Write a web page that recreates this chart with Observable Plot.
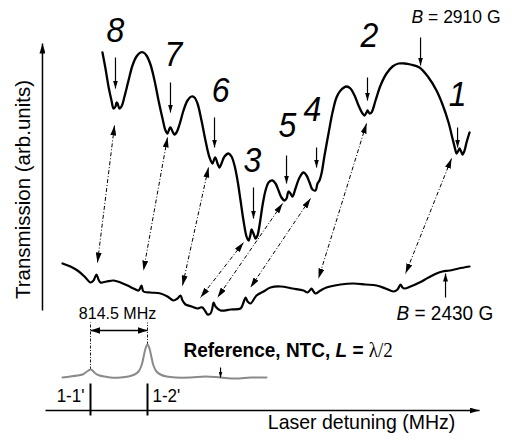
<!DOCTYPE html>
<html><head><meta charset="utf-8">
<script src="https://cdn.jsdelivr.net/npm/d3@7"></script>
<script src="https://cdn.jsdelivr.net/npm/@observablehq/plot@0.6"></script>
<style>body{margin:0;background:#fff}</style>
</head><body><div id="chart"></div>
<script>
// x: laser detuning (MHz, 0 at 1-1'), y: transmission (arb. units)
const top2910 = [[171,3.58],[214,3.42],[257,3.24],[300,3.10],[329,3.02],[357,3.04],[372,3.08],[386,3.07],[414,3.02],[443,3.04],[486,3.14],[543,3.30],[600,3.45],[657,3.54],[714,3.58],[757,3.58],[800,3.55],[857,3.46],[915,3.30],[972,3.10],[1029,2.92],[1072,2.80],[1100,2.77],[1129,2.82],[1143,2.83],[1172,2.79],[1200,2.76],[1229,2.78],[1272,2.86],[1329,3.00],[1386,3.10],[1443,3.14],[1486,3.13],[1529,3.07],[1586,2.90],[1643,2.70],[1701,2.53],[1743,2.47],[1772,2.52],[1786,2.53],[1815,2.47],[1843,2.43],[1872,2.47],[1915,2.54],[1972,2.57],[2015,2.54],[2058,2.45],[2101,2.30],[2144,2.10],[2186,1.90],[2229,1.74],[2258,1.70],[2286,1.76],[2301,1.81],[2329,1.77],[2358,1.72],[2386,1.75],[2415,1.85],[2458,2.05],[2501,2.20],[2544,2.28],[2601,2.30],[2644,2.27],[2687,2.20],[2729,2.13],[2772,2.10],[2801,2.12],[2829,2.19],[2858,2.17],[2887,2.14],[2929,2.22],[2987,2.33],[3044,2.38],[3087,2.35],[3130,2.28],[3172,2.21],[3215,2.20],[3244,2.27],[3272,2.30],[3301,2.37],[3344,2.55],[3401,2.77],[3458,2.98],[3515,3.13],[3573,3.20],[3658,3.24],[3715,3.22],[3773,3.15],[3830,3.05],[3887,2.97],[3915,2.95],[3944,2.98],[3958,3.00],[3987,2.97],[4015,2.98],[4073,3.10],[4144,3.25],[4230,3.37],[4316,3.44],[4401,3.47],[4487,3.47],[4573,3.46],[4701,3.43],[4830,3.33],[4944,3.20],[5030,3.06],[5116,2.88],[5173,2.72],[5216,2.60],[5230,2.57],[5259,2.60],[5273,2.62],[5302,2.58],[5316,2.56],[5345,2.60],[5373,2.68],[5416,2.78]];

const bottom2430 = [[-400,1.47],[-286,1.44],[-186,1.40],[-86,1.34],[0,1.28],[43,1.30],[86,1.36],[114,1.31],[143,1.28],[229,1.29],[329,1.30],[429,1.28],[529,1.25],[614,1.22],[686,1.20],[714,1.23],[729,1.25],[757,1.19],[857,1.18],[1000,1.17],[1100,1.14],[1186,1.10],[1243,1.12],[1286,1.15],[1315,1.10],[1358,1.06],[1443,1.04],[1529,1.02],[1572,1.03],[1600,1.03],[1643,0.99],[1672,0.96],[1715,0.97],[1743,1.03],[1758,1.08],[1786,1.04],[1858,1.00],[2001,1.01],[2144,1.02],[2186,1.08],[2215,1.13],[2244,1.09],[2286,1.07],[2372,1.15],[2472,1.19],[2572,1.23],[2715,1.24],[2887,1.22],[3044,1.20],[3101,1.18],[3144,1.21],[3158,1.22],[3187,1.19],[3215,1.17],[3287,1.20],[3372,1.23],[3573,1.26],[3758,1.27],[3930,1.26],[4087,1.25],[4216,1.22],[4330,1.19],[4387,1.21],[4430,1.26],[4458,1.23],[4487,1.22],[4573,1.24],[4701,1.28],[4830,1.33],[4944,1.37],[5030,1.39],[5130,1.40],[5259,1.42],[5416,1.44]];

const reference = [[-400,0.33],[-286,0.34],[-186,0.35],[-114,0.36],[-71,0.38],[-29,0.40],[0,0.41],[29,0.40],[71,0.37],[129,0.35],[200,0.34],[286,0.33],[429,0.33],[543,0.34],[629,0.36],[686,0.39],[729,0.45],[757,0.53],[786,0.62],[815,0.66],[843,0.62],[872,0.53],[900,0.45],[943,0.39],[1000,0.36],[1086,0.34],[1215,0.33],[1429,0.33],[1643,0.34],[1858,0.33],[2072,0.32],[2286,0.33],[2515,0.33]];

// resonance labels and markers
const peakNames  = ["8","7","6","3","5","4","2","1"];
const peakLabelX = [357,1186,1858,2315,2815,3172,3987,5245];
const peakLabelY = [3.80,3.56,3.20,2.50,2.85,3.01,3.75,3.16];
const dipX       = [357,1143,1772,2329,2801,3230,3958,5245];
const dipArrowTop    = [3.53,3.28,2.93,2.23,2.55,2.63,3.33,2.83];
const dipArrowBottom = [3.22,2.98,2.63,1.92,2.27,2.43,3.10,2.63];
// dash-dot connectors between B=2910 G dips and B=2430 G peaks
const linkTopX    = [343,1100,1686,2186,2744,3144,3944,5159];
const linkTopY    = [2.85,2.73,2.43,1.68,2.07,2.12,2.87,2.52];
const linkBottomX = [100,757,1315,1572,1815,2286,3258,4502];
const linkBottomY = [1.48,1.40,1.25,1.13,1.13,1.23,1.32,1.37];
// reference transitions
const refNames = ["1-1'","1-2'"];
const refX = [0, 814.5];
const refPeakY = [0.41, 0.66];
const spacingLabel = "814.5 MHz";
const fieldLabels = ["B = 2910 G","B = 2430 G"];
const refLabel = "Reference, NTC, L = λ/2";

const idx8 = d3.range(8);
const font = "Liberation Sans, Arial, sans-serif";
// stroke tags used to find the arrow marks afterwards
const C_AXIS = "#000001", C_CONN = "#000002", C_SMALL = "#000003", C_TINY = "#000004", C_SPACE = "#000005";

const chart = Plot.plot({
  width: 512, height: 440, margin: 0,
  x: {domain: [-1286, 6030], axis: null},
  y: {domain: [-0.30, 4.10], axis: null},
  style: {fontFamily: font, background: "#fff", color: "#000"},
  marks: [
    // axes
    Plot.link([0], {x1: -686, y1: 1.00, x2: -686, y2: 3.67, stroke: C_AXIS, strokeWidth: 1.5}),
    Plot.link([0], {x1: -643, y1: 0, x2: 5559, y2: 0, stroke: C_AXIS, strokeWidth: 1.5}),
    // reference transition ticks
    Plot.link(refX, {x1: d => d, x2: d => d, y1: 0.27, y2: -0.05, stroke: "#000", strokeWidth: 2}),
    // dotted verticals
    Plot.link([0,1], {x1: i => refX[i], x2: i => refX[i], y1: i => refPeakY[i], y2: 0.88, stroke: "#000", strokeWidth: 0.9, strokeDasharray: "3,1.5,1,1.5"}),
    // spacing double arrow
    Plot.link([0], {x1: refX[0], x2: refX[1], y1: 0.80, y2: 0.80, stroke: C_SPACE, strokeWidth: 1.5}),
    // curves
    Plot.line(reference, {x: d => d[0], y: d => d[1], curve: "catmull-rom", stroke: "#8a8a8a", strokeWidth: 2}),
    Plot.line(bottom2430, {x: d => d[0], y: d => d[1], curve: "catmull-rom", stroke: "#000", strokeWidth: 2.2}),
    Plot.line(top2910, {x: d => d[0], y: d => d[1], curve: "catmull-rom", stroke: "#000", strokeWidth: 2.3}),
    // connectors
    Plot.link(idx8, {x1: i => linkTopX[i], y1: i => linkTopY[i], x2: i => linkBottomX[i], y2: i => linkBottomY[i], stroke: C_CONN, strokeWidth: 1, strokeDasharray: "4,2,1,2"}),
    // dip indicator arrows
    Plot.link(idx8, {x1: i => dipX[i], x2: i => dipX[i], y1: i => dipArrowTop[i], y2: i => dipArrowBottom[i], stroke: C_SMALL, strokeWidth: 1.2}),
    Plot.link([0], {x1: 4716, x2: 4716, y1: 3.73, y2: 3.45, stroke: C_SMALL, strokeWidth: 1.2}),
    Plot.link([0], {x1: 5073, x2: 5073, y1: 1.13, y2: 1.37, stroke: C_SMALL, strokeWidth: 1.2}),
    Plot.link([0], {x1: 1858, x2: 1858, y1: 0.43, y2: 0.33, stroke: C_TINY, strokeWidth: 1.2}),
    // numbers
    Plot.text(idx8, {x: i => peakLabelX[i], y: i => peakLabelY[i], text: i => peakNames[i], fontSize: 32, fontStyle: "italic", fontFamily: font, fill: "#000"}),
    // field labels
    Plot.text([fieldLabels[0]], {x: 4587, y: 3.94, text: d => d, textAnchor: "start", fontSize: 17.5, fill: "#000"}),
    Plot.text([fieldLabels[1]], {x: 4373, y: 0.97, text: d => d, textAnchor: "start", fontSize: 19, fill: "#000"}),
    Plot.text([spacingLabel], {x: 386, y: 0.97, text: d => d, fontSize: 16, fill: "#000"}),
    Plot.text([refLabel], {x: 1329, y: 0.60, text: d => d, textAnchor: "start", fontSize: 19, fontWeight: "bold", fill: "#000"}),
    Plot.text([0], {x: -86, y: 0.14, text: () => refNames[0], textAnchor: "end", fontSize: 17, fill: "#000"}),
    Plot.text([0], {x: 886, y: 0.14, text: () => refNames[1], textAnchor: "start", fontSize: 17, fill: "#000"}),
    // axis labels
    Plot.text(["Laser detuning (MHz)"], {x: 3873, y: -0.12, text: d => d, fontSize: 19.5, fill: "#000"}),
    Plot.text(["Transmission (arb.units)"], {x: -957, y: 2.21, text: d => d, rotate: -90, fontSize: 20.5, fill: "#000"})
  ]
});
document.getElementById("chart").appendChild(chart);

// filled arrowheads
const svg = d3.select(chart);
const defs = svg.insert("defs", ":first-child");
function marker(id, len, wid) {
  defs.append("marker").attr("id", id)
    .attr("viewBox", `0 ${-wid/2} ${len} ${wid}`)
    .attr("refX", len).attr("refY", 0)
    .attr("markerWidth", len).attr("markerHeight", wid)
    .attr("markerUnits", "userSpaceOnUse")
    .attr("orient", "auto-start-reverse")
    .append("path").attr("d", `M0,${-wid/2}L${len},0L0,${wid/2}Z`).attr("fill", "#000").attr("stroke", "none");
}
marker("ahBig", 10, 6);
marker("ahAxis", 10, 6);
marker("ahSmall", 8, 5);
marker("ahTiny", 6, 4);
marker("ahSpace", 10, 7);
function tag(color, start, end) {
  svg.selectAll("path").filter(function() {
    const s = this.getAttribute("stroke") || (this.parentNode && this.parentNode.getAttribute && this.parentNode.getAttribute("stroke"));
    return s && s.toLowerCase() === color;
  }).each(function() {
    if (start) this.setAttribute("marker-start", `url(#${start})`);
    if (end) this.setAttribute("marker-end", `url(#${end})`);
  });
}
tag(C_CONN, "ahBig", "ahBig");
tag(C_AXIS, null, "ahAxis");
tag(C_SMALL, null, "ahSmall");
tag(C_TINY, null, "ahTiny");
tag(C_SPACE, "ahSpace", "ahSpace");

// rich text (italic B, L and λ)
const NS = "http://www.w3.org/2000/svg";
function span(parent, txt, attrs) {
  const s = document.createElementNS(NS, "tspan");
  for (const k in attrs) s.setAttribute(k, attrs[k]);
  s.textContent = txt; parent.appendChild(s);
}
svg.selectAll("text").each(function() {
  const t = this.textContent;
  if (t.startsWith("B = ")) {
    this.textContent = "";
    span(this, "B", {"font-style": "italic"});
    span(this, t.slice(1), {});
  } else if (t === refLabel) {
    this.textContent = "";
    span(this, "Reference, NTC, ", {});
    span(this, "L", {"font-style": "italic"});
    span(this, " = ", {});
    span(this, "λ/2", {"font-weight": "normal", "font-family": "Liberation Serif, Times New Roman, serif"});
  }
});
// the reference lettering is slightly tall for its width: stretch horizontal text vertically (in its own frame)
svg.selectAll("text").each(function() {
  const tr = this.getAttribute("transform") || "";
  if (tr.includes("rotate")) return;
  const b = this.getBBox();
  const cy = b.y + b.height / 2;
  this.setAttribute("transform", `${tr} translate(0,${cy}) scale(1,1.08) translate(0,${-cy})`.trim());
});
</script>
</body></html>
